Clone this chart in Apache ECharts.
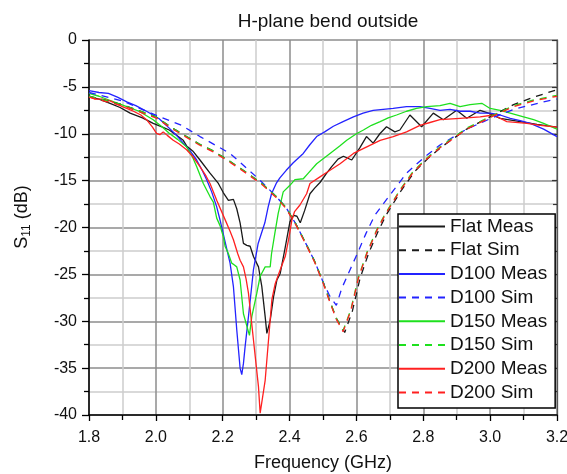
<!DOCTYPE html>
<html>
<head>
<meta charset="utf-8">
<script src="https://cdn.jsdelivr.net/npm/echarts@6/dist/echarts.min.js"></script>
<style>
  html, body { margin: 0; padding: 0; background: #fff; }
  #chart { width: 567px; height: 474px; }
</style>
</head>
<body>
<div id="chart"></div>
<script>
// Return loss of the H-plane bend (outside), measured vs simulated, per bend diameter.

const xTicks = [1.8, 2.0, 2.2, 2.4, 2.6, 2.8, 3.0, 3.2];
const yTicks = [0, -5, -10, -15, -20, -25, -30, -35, -40];

const flatMeasFreq = [1.8, 1.83, 1.863, 1.893, 1.923, 1.96, 1.992, 2.02, 2.04, 2.06, 2.082, 2.092, 2.112, 2.132, 2.162, 2.187, 2.202, 2.217, 2.232, 2.242, 2.252, 2.262, 2.272, 2.282, 2.292, 2.307, 2.317, 2.327, 2.332, 2.342, 2.352, 2.362, 2.372, 2.386, 2.401, 2.412, 2.422, 2.432, 2.445, 2.461, 2.475, 2.491, 2.511, 2.526, 2.545, 2.561, 2.586, 2.61, 2.63, 2.65, 2.67, 2.69, 2.715, 2.73, 2.76, 2.795, 2.83, 2.86, 2.9, 2.93, 2.97, 2.995, 3.03, 3.09, 3.14, 3.2];
const flatMeasDb = [-6.05, -6.3, -6.75, -7.2, -7.8, -8.3, -8.9, -9.3, -9.6, -10.1, -10.7, -11.3, -11.9, -12.8, -14.2, -15.3, -16.3, -17.1, -17.0, -18.0, -19.5, -21.7, -21.9, -22.0, -23.1, -24.2, -26.3, -29.5, -31.3, -29.9, -27.4, -25.6, -24.9, -22.3, -19.4, -18.7, -18.8, -19.5, -18.2, -16.4, -15.8, -15.2, -14.2, -13.5, -12.7, -12.4, -12.8, -11.5, -10.3, -11.0, -10.0, -9.25, -9.8, -9.6, -8.0, -9.25, -7.8, -8.5, -7.5, -8.35, -7.5, -7.8, -8.35, -8.7, -9.0, -9.3];

const flatSimFreq = [1.8, 1.9, 2.0, 2.05, 2.13, 2.17, 2.22, 2.27, 2.32, 2.36, 2.39, 2.42, 2.45, 2.475, 2.5, 2.52, 2.54, 2.565, 2.588, 2.611, 2.637, 2.665, 2.69, 2.735, 2.775, 2.815, 2.855, 2.93, 3.01, 3.07, 3.13, 3.2];
const flatSimDb = [-6.0, -6.9, -8.2, -9.4, -11.1, -11.8, -12.9, -14.1, -15.4, -16.7, -17.9, -19.7, -21.8, -23.6, -25.8, -27.8, -29.7, -31.2, -28.9, -25.4, -22.7, -20.4, -18.6, -16.0, -14.0, -12.6, -11.4, -9.5, -8.0, -6.9, -6.1, -5.3];

const d100MeasFreq = [1.8, 1.83, 1.858, 1.885, 1.913, 1.94, 1.972, 2.01, 2.04, 2.06, 2.082, 2.102, 2.122, 2.14, 2.152, 2.167, 2.182, 2.192, 2.207, 2.222, 2.232, 2.242, 2.252, 2.257, 2.262, 2.267, 2.277, 2.292, 2.306, 2.326, 2.336, 2.346, 2.36, 2.371, 2.39, 2.411, 2.441, 2.46, 2.481, 2.505, 2.531, 2.56, 2.591, 2.62, 2.65, 2.68, 2.71, 2.75, 2.79, 2.82, 2.85, 2.88, 2.91, 2.94, 2.97, 3.0, 3.03, 3.06, 3.09, 3.12, 3.16, 3.2];
const d100MeasDb = [-5.4, -5.6, -5.7, -6.1, -6.6, -7.0, -7.6, -8.4, -9.4, -10.1, -11.0, -11.8, -12.8, -14.0, -14.9, -16.2, -17.8, -19.2, -21.5, -23.8, -26.3, -30.9, -35.0, -35.7, -34.5, -32.7, -29.5, -24.5, -21.7, -19.5, -17.8, -16.4, -15.3, -14.7, -13.9, -13.1, -12.1, -11.2, -10.3, -9.8, -9.2, -8.7, -8.2, -7.8, -7.5, -7.4, -7.3, -7.1, -7.1, -7.3, -7.5, -7.4, -7.6, -7.6, -7.8, -7.8, -8.0, -8.35, -8.6, -8.9, -9.5, -10.3];

const d100SimFreq = [1.8, 1.9, 2.012, 2.077, 2.132, 2.222, 2.31, 2.36, 2.39, 2.42, 2.45, 2.475, 2.5, 2.52, 2.54, 2.556, 2.581, 2.605, 2.629, 2.655, 2.682, 2.75, 2.8, 2.85, 2.93, 3.0, 3.07, 3.16, 3.2];
const d100SimDb = [-5.6, -6.5, -8.2, -9.1, -10.3, -12.1, -14.9, -16.7, -17.9, -19.7, -21.8, -23.6, -25.8, -27.3, -28.3, -26.5, -24.5, -22.6, -20.6, -18.7, -17.4, -14.2, -12.6, -11.2, -9.5, -8.4, -7.4, -6.6, -6.3];

const d150MeasFreq = [1.8, 1.83, 1.86, 1.913, 1.95, 1.992, 2.02, 2.04, 2.065, 2.092, 2.11, 2.122, 2.142, 2.162, 2.172, 2.182, 2.192, 2.202, 2.207, 2.217, 2.227, 2.235, 2.242, 2.252, 2.262, 2.272, 2.28, 2.287, 2.302, 2.312, 2.327, 2.342, 2.346, 2.356, 2.366, 2.381, 2.401, 2.416, 2.441, 2.456, 2.481, 2.521, 2.55, 2.571, 2.6, 2.621, 2.645, 2.671, 2.695, 2.72, 2.75, 2.78, 2.81, 2.85, 2.88, 2.91, 2.94, 2.975, 3.0, 3.03, 3.06, 3.1, 3.13, 3.16, 3.2];
const d150MeasDb = [-5.7, -6.0, -6.4, -7.1, -7.6, -8.5, -9.3, -9.95, -10.6, -11.4, -12.5, -13.5, -15.3, -16.7, -17.3, -19.0, -19.8, -21.0, -22.0, -22.8, -23.8, -24.0, -24.2, -25.6, -29.2, -30.5, -31.5, -29.5, -27.0, -25.2, -24.2, -24.2, -22.8, -20.6, -18.5, -16.2, -15.5, -14.9, -14.8, -14.2, -13.2, -12.1, -11.3, -10.7, -10.0, -9.6, -9.1, -8.7, -8.3, -8.0, -7.6, -7.3, -7.1, -7.0, -6.75, -7.1, -6.9, -6.75, -7.3, -7.5, -7.8, -8.2, -8.5, -8.9, -9.5];

const d150SimFreq = [1.8, 1.9, 2.0, 2.05, 2.13, 2.17, 2.22, 2.27, 2.32, 2.36, 2.39, 2.42, 2.45, 2.475, 2.5, 2.52, 2.54, 2.56, 2.583, 2.606, 2.632, 2.66, 2.685, 2.73, 2.77, 2.81, 2.85, 2.93, 3.01, 3.07, 3.13, 3.2];
const d150SimDb = [-6.0, -6.9, -8.2, -9.4, -11.1, -11.8, -12.9, -14.1, -15.4, -16.7, -17.9, -19.7, -21.8, -23.6, -25.8, -27.8, -29.7, -31.0, -28.8, -25.3, -22.6, -20.3, -18.6, -16.0, -14.0, -12.6, -11.4, -9.4, -8.0, -7.0, -6.4, -5.9];

const d200MeasFreq = [1.8, 1.818, 1.84, 1.863, 1.9, 1.933, 1.955, 1.972, 1.99, 2.002, 2.012, 2.022, 2.035, 2.052, 2.07, 2.092, 2.11, 2.132, 2.15, 2.162, 2.182, 2.21, 2.222, 2.232, 2.245, 2.252, 2.262, 2.27, 2.277, 2.292, 2.307, 2.312, 2.317, 2.327, 2.337, 2.347, 2.357, 2.372, 2.387, 2.397, 2.407, 2.415, 2.431, 2.451, 2.461, 2.491, 2.521, 2.551, 2.591, 2.631, 2.671, 2.71, 2.75, 2.79, 2.82, 2.85, 2.91, 2.97, 3.01, 3.05, 3.11, 3.15, 3.2];
const d200MeasDb = [-6.05, -6.3, -6.3, -6.5, -7.1, -7.6, -8.0, -8.5, -9.3, -9.95, -10.1, -9.8, -10.2, -10.7, -11.1, -11.7, -12.4, -13.5, -14.5, -15.3, -17.1, -19.4, -20.4, -21.3, -22.8, -23.5, -24.2, -25.5, -27.0, -32.0, -37.0, -39.8, -40.0, -36.3, -32.0, -27.7, -26.0, -24.5, -23.1, -21.3, -19.2, -18.3, -17.6, -16.4, -15.3, -14.6, -13.9, -13.2, -12.1, -11.4, -10.7, -10.3, -9.8, -9.1, -8.8, -8.5, -8.35, -8.2, -8.0, -8.7, -8.9, -9.1, -9.3];

const d200SimFreq = d150SimFreq;
const d200SimDb = [-6.1, -7.0, -8.3, -9.5, -11.2, -11.9, -13.0, -14.2, -15.5, -16.8, -18.0, -19.8, -21.9, -23.7, -25.9, -27.9, -29.8, -31.1, -28.9, -25.4, -22.7, -20.4, -18.7, -16.1, -14.1, -12.7, -11.5, -9.5, -8.1, -7.1, -6.5, -6.0];

const seriesNames = ['Flat Meas', 'Flat Sim', 'D100 Meas', 'D100 Sim', 'D150 Meas', 'D150 Sim', 'D200 Meas', 'D200 Sim'];

function pairs(f, v) { return f.map((x, i) => [x, v[i]]); }

const BLACK = '#1a1a1a', BLUE = '#2323ff', GREEN = '#1ee01e', RED = '#ff2020';
const DASH = [7, 6];

function line(name, data, color, dashed) {
  return {
    name, type: 'line', data,
    symbol: 'none', smooth: false,
    lineStyle: { color, width: 1.3, type: dashed ? DASH : 'solid' },
    itemStyle: { color },
    z: dashed ? 3 : 2
  };
}

const chart = echarts.init(document.getElementById('chart'), null, { renderer: 'canvas' });

const FONT = 'Liberation Sans, Arial, sans-serif';

chart.setOption({
  animation: false,
  backgroundColor: '#fff',
  textStyle: { fontFamily: FONT, color: '#000' },
  title: {
    text: 'H-plane bend outside',
    left: 323, textAlign: 'center', top: 7,
    textStyle: { fontFamily: FONT, fontSize: 19, fontWeight: 'normal', color: '#111' }
  },
  grid: { left: 89, right: 10, top: 40, bottom: 59, containLabel: false, outerBoundsMode: 'none' },
  xAxis: {
    type: 'value', min: 1.8, max: 3.2, interval: 0.2,
    name: 'Frequency (GHz)', nameLocation: 'middle', nameGap: 39,
    nameTextStyle: { fontFamily: FONT, fontSize: 18, color: '#111' },
    axisLine: { show: true, onZero: false, lineStyle: { color: '#000', width: 1.5 } },
    axisTick: { show: true, inside: false, length: 6, lineStyle: { color: '#000', width: 1.3 } },
    minorTick: { show: true, splitNumber: 2, length: 5, lineStyle: { color: '#000', width: 1.3 } },
    axisLabel: { fontFamily: FONT, fontSize: 16, color: '#111', margin: 15, formatter: v => v.toFixed(1) },
    splitLine: { show: true, lineStyle: { color: '#8c8c8c', width: 1.5 } },
    minorSplitLine: { show: true, lineStyle: { color: '#cdcdcd', width: 1.5 } }
  },
  yAxis: [{
    type: 'value', min: -40, max: 0, interval: 5,
    axisLine: { show: true, onZero: false, lineStyle: { color: '#000', width: 1.5 } },
    axisTick: { show: true, inside: false, length: 7, lineStyle: { color: '#000', width: 1.3 } },
    minorTick: { show: true, splitNumber: 2, length: 5, lineStyle: { color: '#000', width: 1.3 } },
    axisLabel: { fontFamily: FONT, fontSize: 16, color: '#111', margin: 12 },
    splitLine: { show: true, lineStyle: { color: '#8c8c8c', width: 1.5 } },
    minorSplitLine: { show: true, lineStyle: { color: '#cdcdcd', width: 1.5 } }
  }, {
    type: 'value', min: -40, max: 0, interval: 5, position: 'right',
    axisLine: { show: true, lineStyle: { color: '#555', width: 1.3 } },
    axisTick: { show: true, inside: true, length: 5, lineStyle: { color: '#333', width: 1.2 } },
    minorTick: { show: true, splitNumber: 2, length: 4, lineStyle: { color: '#333', width: 1.2 } },
    axisLabel: { show: false },
    splitLine: { show: false }
  }],
  legend: {
    data: seriesNames,
    orient: 'vertical',
    left: 398, top: 214,
    width: 159,
    padding: [3, 8, 6, 0],
    itemWidth: 46, itemHeight: 14, itemGap: 4.7,
    backgroundColor: '#fff',
    borderColor: '#000', borderWidth: 1.5, borderRadius: 0,
    itemStyle: { opacity: 0 },
    textStyle: { fontFamily: FONT, fontSize: 19, lineHeight: 19, color: '#111', padding: [0, 0, 0, 0] }
  },
  graphic: [{
    type: 'text',
    x: 22, y: 217,
    rotation: Math.PI / 2,
    style: {
      text: '{a|S}{b|11}{a| (dB)}',
      align: 'center', verticalAlign: 'middle',
      fill: '#111',
      rich: {
        a: { fontFamily: FONT, fontSize: 18, lineHeight: 22, verticalAlign: 'middle', fill: '#111' },
        b: { fontFamily: FONT, fontSize: 12, lineHeight: 22, verticalAlign: 'bottom', fill: '#111', padding: [6, 0, 0, 0] }
      }
    }
  }],
  series: [
    line('Flat Meas', pairs(flatMeasFreq, flatMeasDb), BLACK, false),
    line('Flat Sim', pairs(flatSimFreq, flatSimDb), BLACK, true),
    line('D100 Meas', pairs(d100MeasFreq, d100MeasDb), BLUE, false),
    line('D100 Sim', pairs(d100SimFreq, d100SimDb), BLUE, true),
    line('D150 Meas', pairs(d150MeasFreq, d150MeasDb), GREEN, false),
    line('D150 Sim', pairs(d150SimFreq, d150SimDb), GREEN, true),
    line('D200 Meas', pairs(d200MeasFreq, d200MeasDb), RED, false),
    line('D200 Sim', pairs(d200SimFreq, d200SimDb), RED, true)
  ]
});
</script>
</body>
</html>
